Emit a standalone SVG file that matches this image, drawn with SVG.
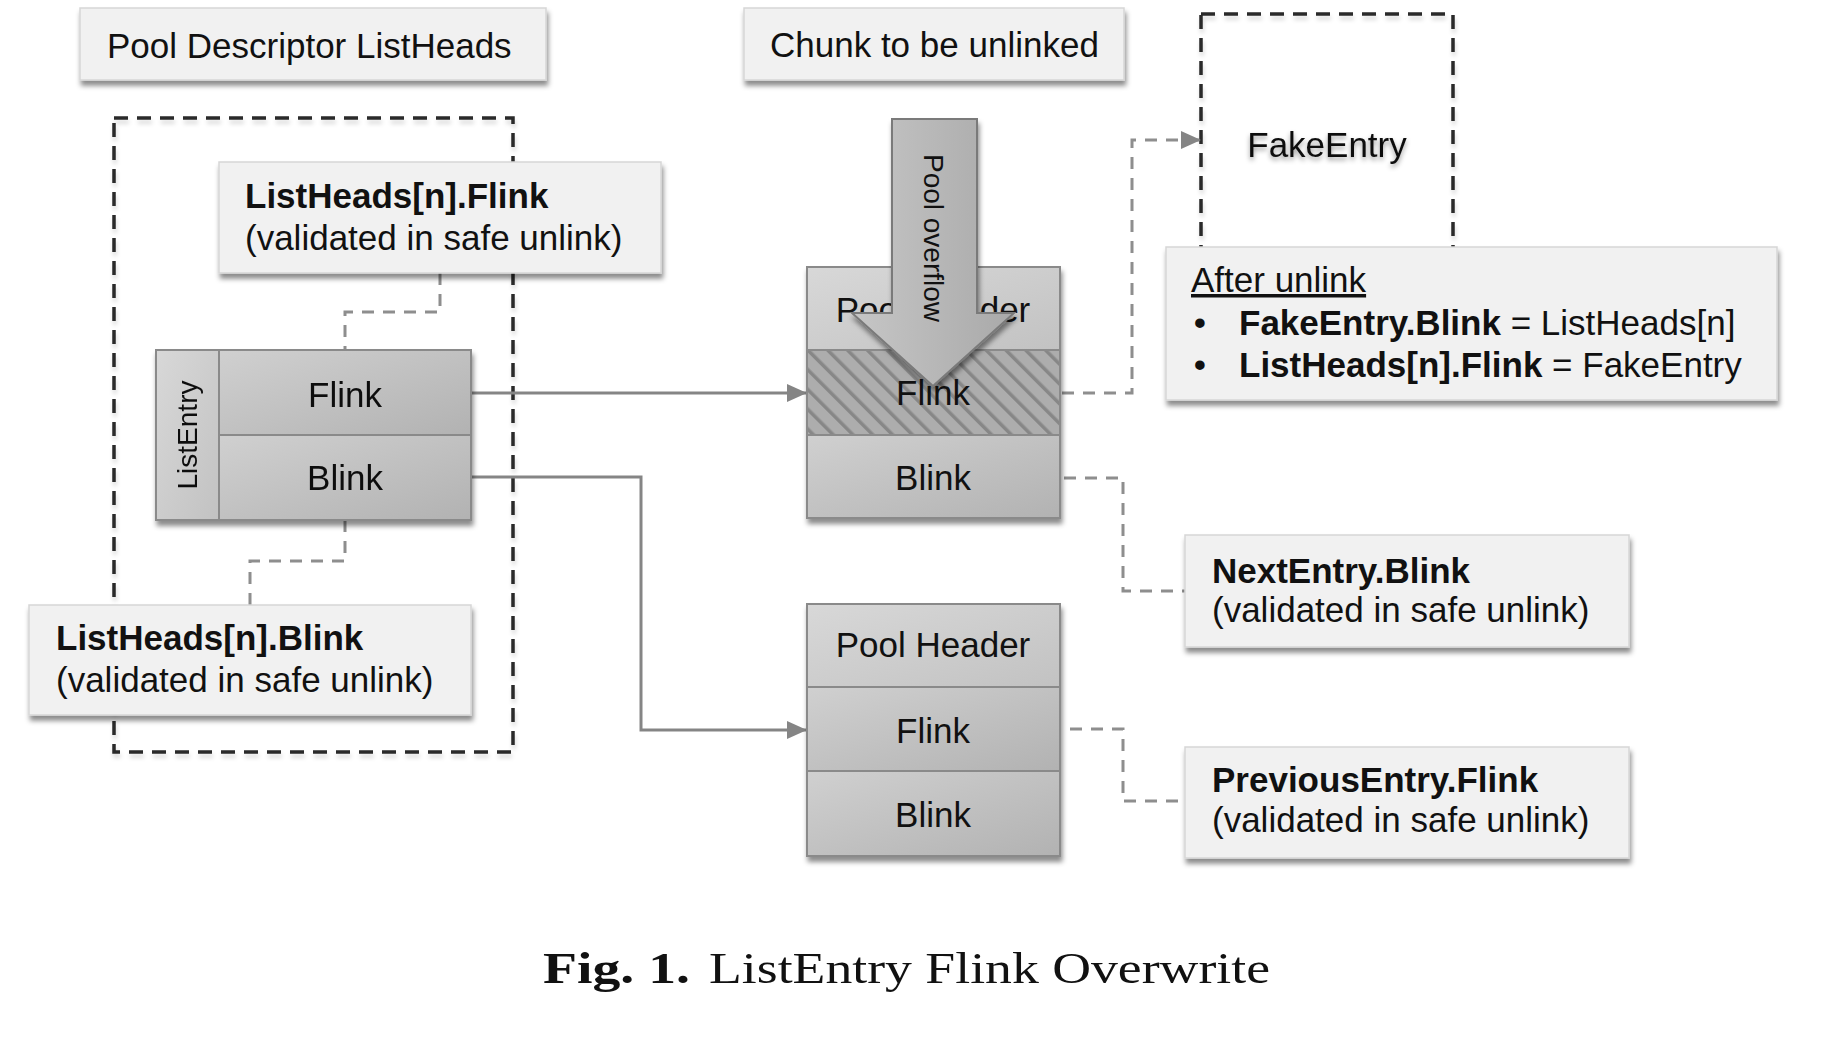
<svg xmlns="http://www.w3.org/2000/svg" width="1844" height="1052" viewBox="0 0 1844 1052">
<defs>
<style>
.lbl{font-family:"Liberation Sans",Arial,Helvetica,sans-serif;font-size:35px;fill:#111}
.b{font-weight:bold}
.mid{text-anchor:middle}
.box{fill:#f1f1f1;stroke:#d6d6d6;stroke-width:1.5}
.cell{fill:url(#cellg);stroke:#8a8a8a;stroke-width:2}
.cellL{fill:url(#celll);stroke:#8a8a8a;stroke-width:2}
.conn{fill:none;stroke:#858585;stroke-width:3}
.dash{fill:none;stroke:#8e8e8e;stroke-width:3;stroke-dasharray:12 9}
.frame{fill:none;stroke:#2a2a2a;stroke-width:3.5;stroke-dasharray:14 9}
.cap{font-family:"Liberation Serif","Times New Roman",serif;font-size:44px;fill:#111}
</style>
<filter id="sh" x="-10%" y="-20%" width="125%" height="150%">
<feDropShadow dx="1.5" dy="5" stdDeviation="2.5" flood-color="#000" flood-opacity="0.45"/>
</filter>
<filter id="fsh" x="-5%" y="-5%" width="115%" height="115%">
<feDropShadow dx="1" dy="4" stdDeviation="2" flood-color="#000" flood-opacity="0.15"/>
</filter>
<filter id="glow" x="-20%" y="-40%" width="140%" height="180%">
<feDropShadow dx="0" dy="3" stdDeviation="2.5" flood-color="#000" flood-opacity="0.4"/>
</filter>
<linearGradient id="cellg" x1="0" y1="0" x2="1" y2="1">
<stop offset="0" stop-color="#d0d0d0"/>
<stop offset="1" stop-color="#b2b2b2"/>
</linearGradient>
<linearGradient id="celll" x1="0" y1="0" x2="1" y2="1">
<stop offset="0" stop-color="#d8d8d8"/>
<stop offset="1" stop-color="#c2c2c2"/>
</linearGradient>
<linearGradient id="arrg" x1="0" y1="0" x2="1" y2="0">
<stop offset="0" stop-color="#c6c6c6"/>
<stop offset="1" stop-color="#a9a9a9"/>
</linearGradient>
<pattern id="hatch" patternUnits="userSpaceOnUse" width="14" height="14" patternTransform="rotate(-45)">
<rect x="0" y="0" width="3.5" height="14" fill="#878787"/>
</pattern>
<marker id="ah" markerUnits="userSpaceOnUse" markerWidth="20" markerHeight="18" refX="20" refY="9" orient="auto">
<path d="M0,0 L20,9 L0,18 z" fill="#858585"/>
</marker>
</defs>
<rect x="0" y="0" width="1844" height="1052" fill="#fff"/>

<g id="frame-listheads"><rect class="frame" x="114" y="118" width="399" height="634" filter="url(#fsh)"/></g>
<g id="frame-fakeentry"><rect class="frame" x="1201" y="14" width="252" height="250" filter="url(#fsh)"/></g>

<g id="title-pool-descriptor">
<rect class="box" x="80" y="8" width="466" height="72" filter="url(#sh)"/>
<text class="lbl" x="107" y="58">Pool Descriptor ListHeads</text>
</g>

<g id="title-chunk">
<rect class="box" x="744" y="8" width="380" height="72" filter="url(#sh)"/>
<text class="lbl" x="770" y="57">Chunk to be unlinked</text>
</g>

<g id="connectors">
<path class="conn" d="M471,393 H807" marker-end="url(#ah)"/>
<path class="conn" d="M471,477 H641 V730 H807" marker-end="url(#ah)"/>
<path class="dash" d="M440,273 V312 H345 V350"/>
<path class="dash" d="M345,520 V561 H250 V605"/>
<path class="dash" d="M1062,393 H1132 V140 H1201" marker-end="url(#ah)"/>
<path class="dash" d="M1064,478 H1123 V591 H1185"/>
<path class="dash" d="M1070,729 H1123 V801 H1185"/>
</g>

<g id="listheads-flink">
<rect class="box" x="219" y="162" width="442" height="111" filter="url(#sh)"/>
<text class="lbl b" x="245" y="208">ListHeads[n].Flink</text>
<text class="lbl" x="245" y="250">(validated in safe unlink)</text>
</g>

<g id="listentry" filter="url(#sh)">
<rect class="cellL" x="156" y="350" width="63" height="170"/>
<rect class="cell" x="219" y="350" width="252" height="85"/>
<rect class="cell" x="219" y="435" width="252" height="85"/>
<text class="lbl" style="font-size:28px" text-anchor="middle" transform="translate(197,435) rotate(-90)">ListEntry</text>
<text class="lbl mid" x="345" y="407">Flink</text>
<text class="lbl mid" x="345" y="490">Blink</text>
</g>

<g id="listheads-blink">
<rect class="box" x="29" y="605" width="442" height="110" filter="url(#sh)"/>
<text class="lbl b" x="56" y="650">ListHeads[n].Blink</text>
<text class="lbl" x="56" y="692">(validated in safe unlink)</text>
</g>

<g id="chunk">
<g filter="url(#sh)">
<rect class="cellL" x="807" y="267" width="253" height="83"/>
<rect x="807" y="350" width="253" height="85" fill="#adadad"/>
<rect x="807" y="350" width="253" height="85" fill="url(#hatch)" stroke="#8a8a8a" stroke-width="2"/>
<rect class="cell" x="807" y="435" width="253" height="83"/>
</g>
<text class="lbl mid" x="933" y="322">Pool Header</text>
<text class="lbl mid" x="933" y="405">Flink</text>
<text class="lbl mid" x="933" y="490">Blink</text>
</g>

<g id="pool-overflow">
<polygon points="892,119 977,119 977,313 1014,313 933,386 852,313 892,313" fill="url(#arrg)" stroke="#7a7a7a" stroke-width="2" filter="url(#sh)"/>
<text class="lbl" style="font-size:28px" text-anchor="middle" transform="translate(924,238) rotate(90)">Pool overflow</text>
</g>

<g id="prev-chunk" >
<g filter="url(#sh)">
<rect class="cellL" x="807" y="604" width="253" height="83"/>
<rect class="cell" x="807" y="687" width="253" height="84"/>
<rect class="cell" x="807" y="771" width="253" height="85"/>
</g>
<text class="lbl mid" x="933" y="657">Pool Header</text>
<text class="lbl mid" x="933" y="743">Flink</text>
<text class="lbl mid" x="933" y="827">Blink</text>
</g>

<g id="fakeentry">
<text class="lbl mid" x="1327" y="157" filter="url(#glow)">FakeEntry</text>
</g>

<g id="after-unlink">
<rect class="box" x="1166" y="247" width="611" height="153" filter="url(#sh)"/>
<text class="lbl" x="1191" y="292" text-decoration="underline">After unlink</text>
<text class="lbl mid" x="1200" y="335">•</text>
<text class="lbl" x="1239" y="335"><tspan class="b">FakeEntry.Blink</tspan> = ListHeads[n]</text>
<text class="lbl mid" x="1200" y="377">•</text>
<text class="lbl" x="1239" y="377"><tspan class="b">ListHeads[n].Flink</tspan> = FakeEntry</text>
</g>

<g id="nextentry-blink">
<rect class="box" x="1185" y="535" width="444" height="112" filter="url(#sh)"/>
<text class="lbl b" x="1212" y="583">NextEntry.Blink</text>
<text class="lbl" x="1212" y="622">(validated in safe unlink)</text>
</g>

<g id="previousentry-flink">
<rect class="box" x="1185" y="747" width="444" height="111" filter="url(#sh)"/>
<text class="lbl b" x="1212" y="792">PreviousEntry.Flink</text>
<text class="lbl" x="1212" y="832">(validated in safe unlink)</text>
</g>

<g id="caption">
<text class="cap" x="543" y="983" font-weight="bold" textLength="147" lengthAdjust="spacingAndGlyphs">Fig. 1.</text>
<text class="cap" x="709" y="983" textLength="561" lengthAdjust="spacingAndGlyphs">ListEntry Flink Overwrite</text>
</g>
</svg>
